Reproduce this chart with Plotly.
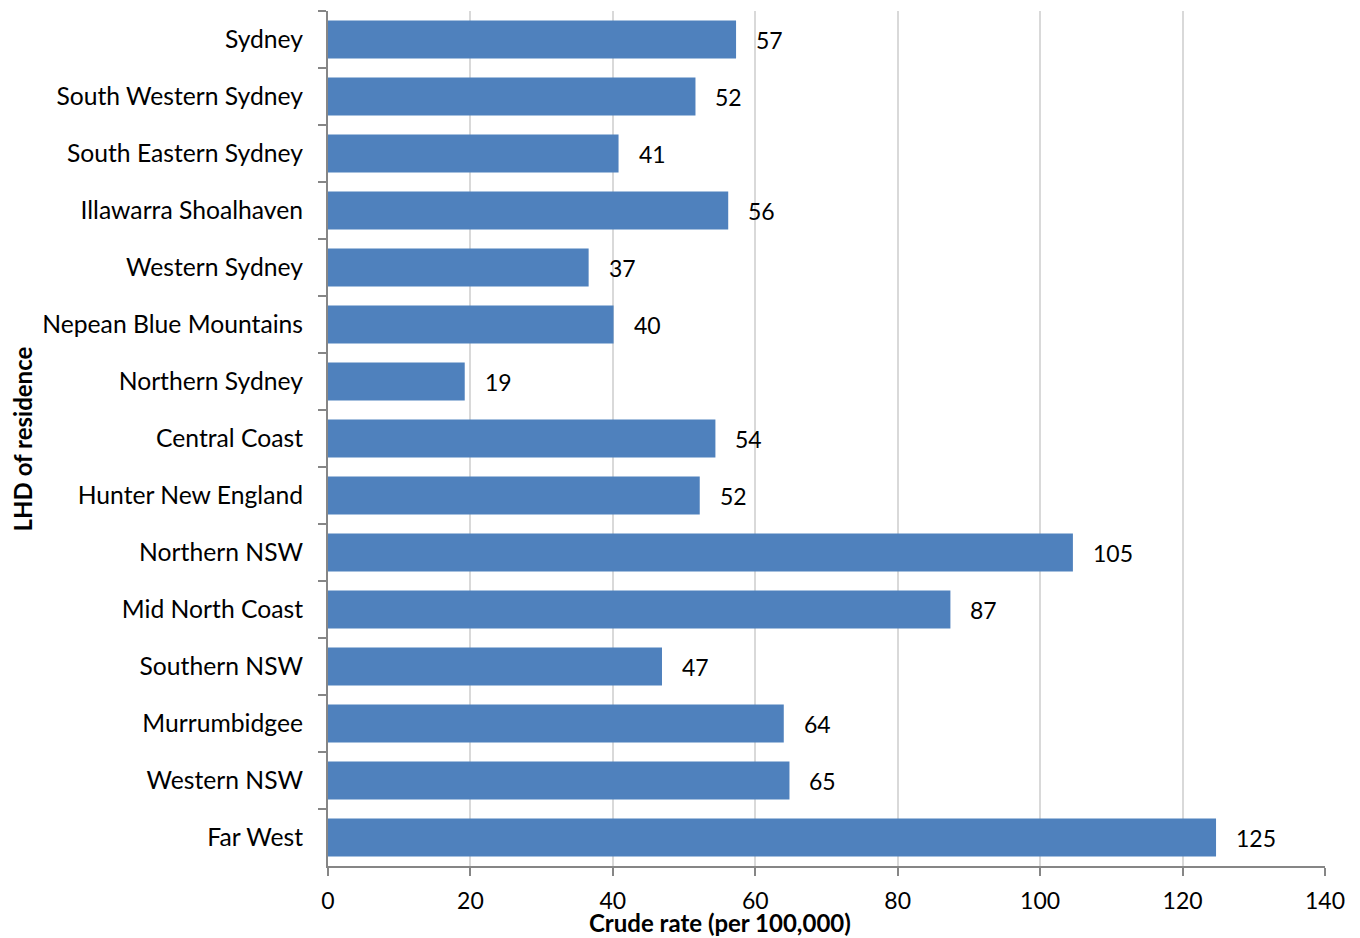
import plotly.graph_objects as go

categories = ["Sydney", "South Western Sydney", "South Eastern Sydney", "Illawarra Shoalhaven",
              "Western Sydney", "Nepean Blue Mountains", "Northern Sydney", "Central Coast",
              "Hunter New England", "Northern NSW", "Mid North Coast", "Southern NSW",
              "Murrumbidgee", "Western NSW", "Far West"]
rates = [57.3, 51.6, 40.8, 56.2, 36.6, 40.1, 19.2, 54.4, 52.2, 104.6, 87.4, 46.9, 64.0, 64.8, 124.7]
x_ticks = [0, 20, 40, 60, 80, 100, 120, 140]

FONT = "Lato"
fig = go.Figure()
fig.add_trace(go.Bar(
    y=categories, x=rates, orientation="h",
    marker=dict(color="#4f81bd", line=dict(width=0)),
    hoverinfo="x+y",
))

annotations = []
for c, v in zip(categories, rates):
    annotations.append(dict(x=v, y=c, xref="x", yref="y", text=f"{v:.0f}",
                            showarrow=False, xanchor="left", xshift=18, yshift=0,
                            font=dict(family=FONT, size=23, color="#000000")))
annotations.append(dict(x=0.393, y=-0.066, xref="paper", yref="paper", yanchor="middle",
                        text="<b>Crude rate (per 100,000)</b>", showarrow=False, borderpad=0,
                        font=dict(family=FONT, size=24, color="#000000")))
annotations.append(dict(x=-0.306, y=0.5, xref="paper", yref="paper", xanchor="center",
                        text="<b>LHD of residence</b>", textangle=-90, showarrow=False, borderpad=0,
                        font=dict(family=FONT, size=24, color="#000000")))

fig.update_layout(
    width=1352, height=930,
    margin=dict(l=320, r=35, t=3, b=72),
    paper_bgcolor="white", plot_bgcolor="white",
    showlegend=False,
    bargap=0.333,
    font=dict(family=FONT, size=23, color="#000000"),
    annotations=annotations,
    xaxis=dict(range=[0, 140], tickvals=x_ticks, ticktext=[str(t) for t in x_ticks],
               showgrid=True, gridcolor="#d9d9d9", gridwidth=2,
               showline=True, linecolor="#868686", linewidth=2,
               ticks="outside", ticklen=8, tickcolor="#868686", tickwidth=2,
               ticklabelstandoff=5,
               tickfont=dict(family=FONT, size=23), zeroline=False),
    yaxis=dict(categoryorder="array", categoryarray=categories, autorange="reversed",
               showline=True, linecolor="#868686", linewidth=2,
               ticks="outside", ticklen=8, tickcolor="#868686", tickwidth=2,
               tickson="boundaries", showgrid=False, ticklabelstandoff=18,
               tickfont=dict(family=FONT, size=24.7)),
)

fig.write_html("out.html")
